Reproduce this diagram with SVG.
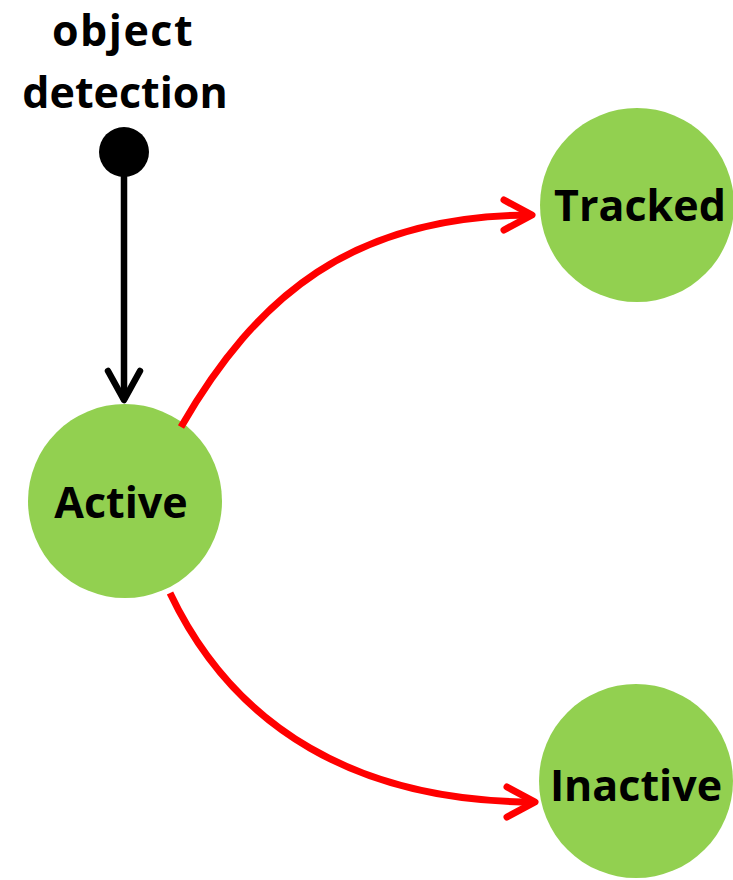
<svg xmlns="http://www.w3.org/2000/svg" width="733" height="880" viewBox="0 0 733 880">
  <style>
    .state { fill: #92D050; }
    .label { font-family: "Open Sans", "Liberation Sans", sans-serif; font-weight: bold; font-size: 43px; fill: #000; text-anchor: middle; }
    .edge { fill: none; stroke: #FF0000; stroke-width: 7; }
    .init { fill: none; stroke: #000; stroke-width: 6.5; }
  </style>
  <defs>
    <marker id="head-red" markerUnits="userSpaceOnUse" orient="auto" markerWidth="40" markerHeight="40" refX="0" refY="0" viewBox="-35 -20 40 40" overflow="visible">
      <path d="M-28,-15 L0,0 L-28,15" fill="none" stroke="#FF0000" stroke-width="7" stroke-linecap="round" stroke-linejoin="round"/>
    </marker>
    <marker id="head-black" markerUnits="userSpaceOnUse" orient="auto" markerWidth="40" markerHeight="40" refX="0" refY="0" viewBox="-35 -20 40 40" overflow="visible">
      <path d="M-29,-16 L0,0 L-29,16" fill="none" stroke="#000" stroke-width="6.5" stroke-linecap="round" stroke-linejoin="round"/>
    </marker>
  </defs>

  <rect width="733" height="880" fill="#FFFFFF"/>

  <g id="start">
    <text class="label" x="123" y="46" letter-spacing="1.5">object</text>
    <text class="label" x="125" y="108">detection</text>
    <circle cx="124" cy="152" r="25" fill="#000"/>
  </g>

  <g id="active">
    <circle class="state" cx="125" cy="501" r="97"/>
    <text class="label" x="121" y="518">Active</text>
  </g>

  <g id="tracked">
    <circle class="state" cx="637" cy="205" r="97"/>
    <text class="label" x="640" y="221">Tracked</text>
  </g>

  <g id="inactive">
    <circle class="state" cx="636" cy="781" r="97"/>
    <text class="label" x="636" y="801">Inactive</text>
  </g>

  <g id="connectors">
    <path class="init" d="M124,152 L124,400" marker-end="url(#head-black)"/>
    <path class="edge" d="M181,427 C256,297 352,215 532,215" marker-end="url(#head-red)"/>
    <path class="edge" d="M170,593 C234,728 358,802 535,802" marker-end="url(#head-red)"/>
  </g>
</svg>
